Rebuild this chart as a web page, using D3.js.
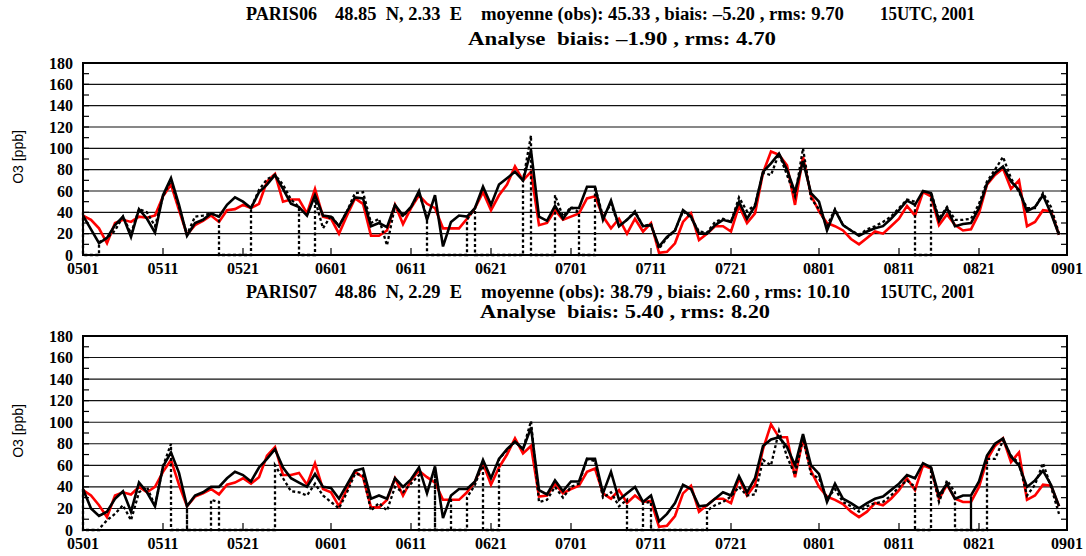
<!DOCTYPE html>
<html><head><meta charset="utf-8">
<script src="https://cdn.jsdelivr.net/npm/d3@7"></script>
<style>
body{margin:0;background:#fff;}
svg{display:block;}
text{white-space:pre;}
</style></head>
<body><svg id="c" width="1086" height="556"></svg>
<script>
// ---- data (daily values at 15UTC, 2001-05-01 .. 2001-08-31) ----
const startDate = "2001-05-01";
const tickLabels = ["0501","0511","0521","0601","0611","0621","0701","0711","0721","0801","0811","0821","0901"];
const yTicks = [0,20,40,60,80,100,120,140,160,180];

const titleTop1 = ["PARIS06", "48.85  N, 2.33  E", "moyenne (obs): 45.33 , biais: \u20135.20 , rms: 9.70", "15UTC, 2001"];
const titleTop2 = "Analyse  biais: \u20131.90 , rms: 4.70";
const titleBot1 = ["PARIS07", "48.86  N, 2.29  E", "moyenne (obs): 38.79 , biais: 2.60 , rms: 10.10", "15UTC, 2001"];
const titleBot2 = "Analyse  biais: 5.40 , rms: 8.20";

const redTop = [37,33,25,11,30,33,31,36,35,37, 55,66,42,19,28,32,37,31,42,43,
 47,44,48,69,76,50,52,52,39,62, 36,34,20,37,53,48,18,18,23,47,
 29,44,56,48,44,25,25,25,34,44, 59,42,56,66,83,70,78,28,30,42,
 33,36,39,53,55,36,25,34,20,34, 22,30,2,3,11,31,39,14,20,27,
 27,22,46,30,39,77,97,94,84,47, 92,56,41,30,27,23,15,10,16,22,
 20,27,34,46,37,59,55,28,38,28, 23,24,39,66,75,81,62,70,27,31,
 42,41,19];
const blackTop = [37,24,11,16,28,36,17,43,34,21, 56,72,47,18,30,33,39,36,47,54,
 50,44,59,66,75,62,48,45,37,56, 37,36,27,41,54,53,27,30,26,47,
 37,45,60,33,56,8,31,37,36,44, 64,47,66,72,78,70,98,36,32,46,
 34,44,44,64,64,33,51,27,33,40, 27,28,8,17,23,42,36,20,20,28,
 33,31,50,34,46,78,86,95,80,59, 88,58,50,23,42,28,23,18,22,25,
 27,34,42,51,47,60,58,32,44,27, 29,30,44,67,77,83,69,61,41,45,
 56,39,19];
const obsTop = [40,null,12,16,23,36,20,43,40,27, 55,70,45,19,36,37,39,36,null,null,
 null,44,61,71,75,66,52,45,null,52, 25,37,27,41,58,59,30,34,9,46,
 36,45,58,36,null,null,null,null,33,44, null,null,null,null,null,70,112,null,null,56,
 36,45,40,null,64,36,48,27,33,41, 27,29,6,16,23,41,35,22,21,31,
 34,31,54,41,47,77,75,95,75,55, 100,53,43,27,43,28,23,19,24,27,
 31,36,44,52,50,null,59,34,45,33, 33,34,48,69,80,92,72,59,44,44,
 58,45,20];

const redBot = [37,32,23,12,32,35,33,40,35,40, 54,65,42,22,31,34,38,33,42,44,
 48,43,49,69,77,51,51,53,42,62, 38,35,22,38,54,49,21,21,28,48,
 32,46,55,49,44,28,28,28,35,45, 62,42,58,70,85,71,78,31,32,43,
 34,38,41,54,57,34,29,37,25,32, 26,27,3,4,13,34,41,17,23,29,
 29,25,48,32,42,75,98,86,86,49, 85,55,40,31,28,24,17,12,17,25,
 23,29,37,48,37,60,57,29,42,29, 26,26,40,65,78,85,63,72,28,32,
 42,41,22];
const blackBot = [38,20,13,17,29,36,17,44,35,22, 59,72,53,22,32,35,40,40,48,54,
 51,45,58,66,75,58,48,44,40,52, 40,39,29,42,55,57,29,32,29,48,
 40,47,58,34,59,11,32,38,38,45, 65,48,66,75,82,75,95,37,33,46,
 36,45,45,66,66,34,54,28,34,40, 26,32,8,15,25,42,38,22,23,29,
 35,32,50,35,48,78,84,86,77,60, 89,60,52,26,43,29,25,20,25,29,
 31,37,43,51,48,62,58,32,43,29, 32,32,45,69,80,85,68,60,40,46,
 55,42,22];
const obsBot = [38,null,1,9,15,23,9,35,40,22, 59,80,null,20,null,null,28,26,null,null,
 null,null,null,null,60,48,36,35,32,43, 32,26,20,35,52,51,18,25,18,40,
 35,43,51,null,58,null,30,null,30,42, 62,null,66,74,82,75,101,26,28,40,
 30,40,43,66,64,30,35,22,28,null, 25,26,null,null,null,null,null,null,18,23,
 26,31,40,32,33,65,60,92,68,51, 85,52,48,29,38,26,22,17,22,25,
 26,32,40,46,40,null,58,26,46,35, null,31,null,66,66,83,69,62,32,42,
 62,40,15];

// ---- drawing ----
const svg = d3.select("#c");
const parseDay = d3.utcParse("%Y-%m-%d");
const t0 = parseDay(startDate);
const dayDate = i => d3.utcDay.offset(t0, i);
const tickDates = tickLabels.map(l => d3.utcParse("%Y%m%d")("2001" + l));

const x = d3.scaleUtc().domain([t0, parseDay("2001-09-01")]).range([83, 1067]);

const serif = "'Liberation Serif','Times New Roman',serif";
const sans = "'Liberation Sans',Arial,sans-serif";

const panels = [
  {t1: titleTop1, t2: titleTop2, red: redTop, black: blackTop, obs: obsTop,
   yr: [255, 63], t1y: 20, t2y: 45, t1x: [246, 335, 481, 880], t1w: [71, 127, 363, 95], t2x: 468, t2w: 308},
  {t1: titleBot1, t2: titleBot2, red: redBot, black: blackBot, obs: obsBot,
   yr: [530, 336], t1y: 298, t2y: 318, t1x: [246, 335, 481, 880], t1w: [71, 127, 369, 95], t2x: 480, t2w: 290}
];

panels.forEach(p => {
  const y = d3.scaleLinear().domain([0, 180]).range(p.yr);
  const g = svg.append("g");
  const x0 = x.range()[0], x1 = x.range()[1];

  // grid
  g.selectAll("line.grid").data(yTicks.filter(v => v > 0 && v < 180)).enter().append("line")
    .attr("x1", x0).attr("x2", x1).attr("y1", d => y(d)).attr("y2", d => y(d))
    .attr("stroke", "#111").attr("stroke-width", 1.1);

  // minor ticks on left/right every 10
  const minor = d3.range(10, 180, 10);
  g.selectAll("line.ml").data(minor).enter().append("line")
    .attr("x1", x0).attr("x2", x0 + 6).attr("y1", d => y(d)).attr("y2", d => y(d))
    .attr("stroke", "#000").attr("stroke-width", 1.2);
  g.selectAll("line.mr").data(minor).enter().append("line")
    .attr("x1", x1 - 6).attr("x2", x1).attr("y1", d => y(d)).attr("y2", d => y(d))
    .attr("stroke", "#000").attr("stroke-width", 1.2);
  // bottom ticks
  g.selectAll("line.bt").data(tickDates).enter().append("line")
    .attr("x1", d => x(d)).attr("x2", d => x(d)).attr("y1", y(0)).attr("y2", y(0) - 7)
    .attr("stroke", "#000").attr("stroke-width", 1.2);

  // series
  const line = d3.line().x(d => x(dayDate(d[0]))).y(d => y(d[1]));
  const pts = arr => arr.map((v, i) => [i, v]);
  g.append("path").attr("d", line(pts(p.red))).attr("fill", "none")
    .attr("stroke", "#ff0000").attr("stroke-width", 2.6).attr("stroke-linejoin", "miter");
  g.append("path").attr("d", line(pts(p.black))).attr("fill", "none")
    .attr("stroke", "#000").attr("stroke-width", 2.6).attr("stroke-linejoin", "miter");

  // observations: missing values drawn along the zero line with vertical transitions
  const obsPts = [];
  const o = p.obs;
  o.forEach((v, i) => {
    if (v === null) return;
    if (i > 0 && o[i - 1] === null) obsPts.push([i, 0]);
    obsPts.push([i, v]);
    if (i < o.length - 1 && o[i + 1] === null) obsPts.push([i, 0]);
  });
  g.append("path").attr("d", line(obsPts)).attr("fill", "none")
    .attr("stroke", "#000").attr("stroke-width", 2.3).attr("stroke-dasharray", "3,2.5");

  // frame
  g.append("rect").attr("x", x0).attr("y", y(180)).attr("width", x1 - x0).attr("height", y(0) - y(180))
    .attr("fill", "none").attr("stroke", "#000").attr("stroke-width", 2);

  // y labels
  g.selectAll("text.yl").data(yTicks).enter().append("text")
    .attr("x", 73).attr("y", d => y(d) + 5.5).attr("text-anchor", "end")
    .attr("font-family", serif).attr("font-weight", "bold").attr("font-size", 16)
    .text(d => d);
  // x labels
  g.selectAll("text.xl").data(tickDates).enter().append("text")
    .attr("x", d => x(d)).attr("y", y(0) + 19).attr("text-anchor", "middle")
    .attr("font-family", serif).attr("font-weight", "bold").attr("font-size", 16)
    .text((d, i) => tickLabels[i]);
  // axis title
  const cy = (y(0) + y(180)) / 2;
  g.append("text").attr("transform", `translate(23,${cy - 2}) rotate(-90)`).attr("text-anchor", "middle")
    .attr("font-family", sans).attr("font-size", 14).text("O3 [ppb]");

  // titles
  p.t1.forEach((s, i) => {
    g.append("text").attr("x", p.t1x[i]).attr("y", p.t1y)
      .attr("font-family", serif).attr("font-weight", "bold").attr("font-size", 18)
      .attr("textLength", p.t1w[i]).attr("lengthAdjust", "spacingAndGlyphs").text(s);
  });
  g.append("text").attr("x", p.t2x).attr("y", p.t2y)
    .attr("font-family", serif).attr("font-weight", "bold").attr("font-size", 18)
    .attr("textLength", p.t2w).attr("lengthAdjust", "spacingAndGlyphs").text(p.t2);
});
</script></body></html>
